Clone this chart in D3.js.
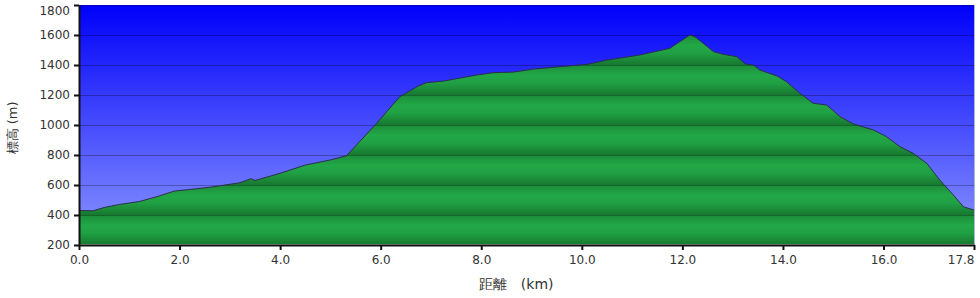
<!DOCTYPE html>
<html>
<head>
<meta charset="utf-8">
<script src="https://cdn.jsdelivr.net/npm/d3@7"></script>
<style>
  body { margin: 0; background: #fff; }
  svg text { font-family: "DejaVu Sans", Verdana, sans-serif; fill: #333; }
</style>
</head>
<body>
<div id="chart"></div>
<script>
const width = 980;
const height = 298;
const marginTop = 5;
const marginRight = 6;
const marginBottom = 53;
const marginLeft = 79;

// distance along the route (km)
const distances = [
  0.0, 0.28, 0.5, 0.8, 1.2, 1.55, 1.9, 2.2, 2.6, 3.2, 3.42, 3.5, 4.0, 4.5, 5.0, 5.32,
  5.92, 6.38, 6.75, 6.91, 7.25, 7.91, 8.24, 8.64, 9.04, 9.57, 10.1, 10.5, 10.86, 11.16,
  11.75, 11.92, 12.15, 12.25, 12.62, 12.81, 13.08, 13.25, 13.41, 13.54, 13.88, 14.07,
  14.34, 14.6, 14.87, 15.14, 15.4, 15.8, 16.06, 16.33, 16.59, 16.86, 17.12, 17.39, 17.59, 17.8
];
// elevation (m)
const elevations = [
  430, 428, 450, 470, 490, 522, 560, 570, 585, 615, 642, 630, 678, 733, 767, 795,
  1011, 1189, 1260, 1282, 1293, 1333, 1349, 1353, 1373, 1389, 1404, 1433, 1451, 1467,
  1511, 1549, 1600, 1589, 1489, 1471, 1456, 1407, 1400, 1367, 1327, 1289,
  1211, 1145, 1133, 1055, 1007, 967, 922, 855, 811, 745, 633, 533, 455, 433
];
const xTicks = [0, 2, 4, 6, 8, 10, 12, 14, 16, 17.8];
const yTicks = [200, 400, 600, 800, 1000, 1200, 1400, 1600, 1800];

const data = distances.map((d, i) => ({ km: d, ele: elevations[i] }));

const xScale = d3.scaleLinear()
    .domain([0, 17.8])
    .range([marginLeft, width - marginRight]);

const yScale = d3.scaleLinear()
    .domain([200, 1800])
    .range([height - marginBottom, marginTop]);

const svg = d3.create("svg")
    .attr("width", width)
    .attr("height", height);

const defs = svg.append("defs");

const sky = defs.append("linearGradient")
    .attr("id", "sky")
    .attr("x1", 0).attr("y1", 0).attr("x2", 0).attr("y2", 1);
sky.append("stop").attr("offset", "0%").attr("stop-color", "#0000fa");
sky.append("stop").attr("offset", "100%").attr("stop-color", "#8c98ff");

// one green band per 200 m step
const band = yScale(1600) - yScale(1800);
const bandGrad = defs.append("linearGradient")
    .attr("id", "bandGrad")
    .attr("x1", 0).attr("y1", 0).attr("x2", 0).attr("y2", 1);
bandGrad.append("stop").attr("offset", "0%").attr("stop-color", "#1c8c3a");
bandGrad.append("stop").attr("offset", "35%").attr("stop-color", "#22a847");
bandGrad.append("stop").attr("offset", "60%").attr("stop-color", "#20a044");
bandGrad.append("stop").attr("offset", "100%").attr("stop-color", "#17782f");

const pattern = defs.append("pattern")
    .attr("id", "ground")
    .attr("patternUnits", "userSpaceOnUse")
    .attr("x", 0)
    .attr("y", marginTop)
    .attr("width", width)
    .attr("height", band);
pattern.append("rect")
    .attr("width", width)
    .attr("height", band)
    .attr("fill", "url(#bandGrad)");

const plotW = width - marginLeft - marginRight;
const plotH = height - marginTop - marginBottom;

svg.append("rect")
    .attr("x", marginLeft)
    .attr("y", marginTop)
    .attr("width", plotW)
    .attr("height", plotH)
    .attr("fill", "url(#sky)");

const area = d3.area()
    .x(d => xScale(d.km))
    .y0(yScale(200))
    .y1(d => yScale(d.ele));

const line = d3.line()
    .x(d => xScale(d.km))
    .y(d => yScale(d.ele));

svg.append("path")
    .datum(data)
    .attr("fill", "url(#ground)")
    .attr("d", area);

// gridlines
svg.append("g")
    .selectAll("line")
    .data(yTicks.slice(1))
    .join("line")
    .attr("x1", marginLeft)
    .attr("x2", width - marginRight)
    .attr("y1", d => yScale(d) + 0.5)
    .attr("y2", d => yScale(d) + 0.5)
    .attr("stroke", "#000")
    .attr("stroke-opacity", 0.28);

svg.append("path")
    .datum(data)
    .attr("fill", "none")
    .attr("stroke", "#2b2f4a")
    .attr("stroke-width", 1)
    .attr("d", line);

// light strip at the base and right border
svg.append("line")
    .attr("x1", marginLeft).attr("x2", width - marginRight)
    .attr("y1", yScale(200) - 0.5).attr("y2", yScale(200) - 0.5)
    .attr("stroke", "#b8c0b8");
svg.append("line")
    .attr("x1", width - marginRight + 0.5).attr("x2", width - marginRight + 0.5)
    .attr("y1", marginTop).attr("y2", yScale(200))
    .attr("stroke", "#a8b8d8");

const xAxis = svg.append("g")
    .attr("transform", `translate(0,${height - marginBottom})`)
    .call(d3.axisBottom(xScale).tickValues(xTicks).tickFormat(d3.format(".1f")).tickSize(5).tickSizeOuter(0));

const yAxis = svg.append("g")
    .attr("transform", `translate(${marginLeft},0)`)
    .call(d3.axisLeft(yScale).tickValues(yTicks).tickFormat(d3.format("d")).tickSize(5).tickSizeOuter(0));

[xAxis, yAxis].forEach(g => {
    g.select(".domain").attr("stroke", "#111").attr("stroke-width", 2);
    g.selectAll(".tick line").attr("stroke", "#111").attr("stroke-width", 2);
    g.selectAll(".tick text").attr("font-size", 12).style("fill", "#333");
});
xAxis.selectAll(".tick text").attr("dy", "0.95em");
// last distance label sits inside the right edge
xAxis.selectAll(".tick text").filter(d => d === 17.8)
    .attr("text-anchor", "end")
    .attr("x", 0);
yAxis.selectAll(".tick text").attr("x", -9);
// top elevation label is pushed down to stay in view
yAxis.selectAll(".tick text").filter(d => d === 1800).attr("dy", "0.75em");

svg.append("text")
    .attr("text-anchor", "middle")
    .attr("x", marginLeft + plotW / 2 - 10)
    .attr("y", 289)
    .attr("font-size", 14)
    .attr("xml:space", "preserve")
    .text("距離   (km)");

svg.append("text")
    .attr("text-anchor", "middle")
    .attr("transform", "rotate(-90)")
    .attr("x", -(marginTop + plotH / 2) - 3)
    .attr("y", 17)
    .attr("font-size", 13)
    .attr("xml:space", "preserve")
    .text("標高 (m)");

document.getElementById("chart").append(svg.node());
</script>
</body>
</html>
